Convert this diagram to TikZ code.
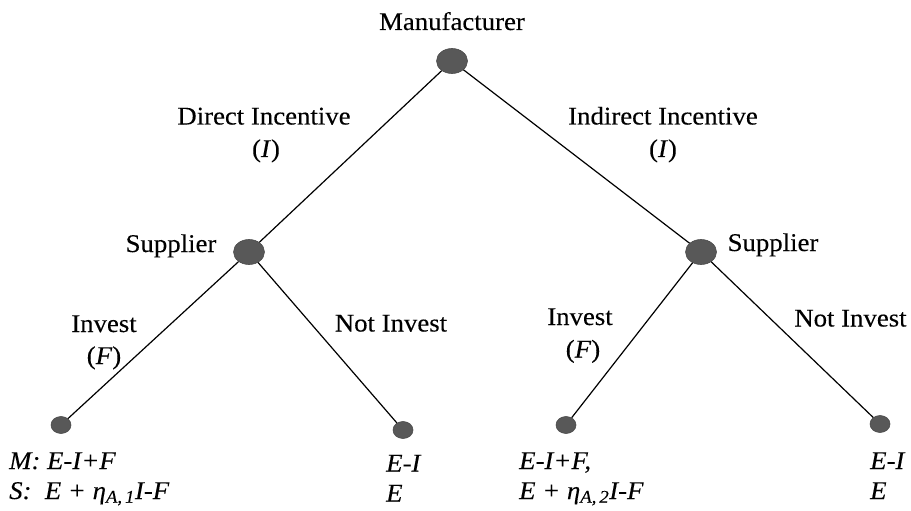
\documentclass[tikz,border=0pt]{standalone}
\usepackage{fontspec}
\setmainfont{Liberation Serif}[FakeStretch=1.05, FakeBold=0.2]
\usetikzlibrary{shapes.geometric}
\definecolor{nodegray}{RGB}{88,88,88}
\newcommand{\subidx}[1]{\textsubscript{\itshape #1}}
\begin{document}
\begin{tikzpicture}[x=1pt,y=-1pt,
  decision/.style={ellipse, fill=nodegray, draw=nodegray!85!black, line width=0.6pt,
    minimum width=31pt, minimum height=25pt, inner sep=0pt},
  terminal/.style={ellipse, fill=nodegray, draw=nodegray!85!black, line width=0.6pt,
    minimum width=20pt, minimum height=17pt, inner sep=0pt},
  branch/.style={draw=black, line width=1.2pt},
  lbl/.style={font=\fontsize{25.5}{33}\selectfont, inner sep=0pt, align=center, anchor=base},
  payoff/.style={font=\fontsize{25.5}{32}\selectfont\itshape, inner sep=0pt, align=left, anchor=base west}]
\useasboundingbox (0,0) rectangle (911,511);

% decision and terminal nodes
\node[decision] (root) at (452,61) {};
\node[decision] (s1) at (249,252) {};
\node[decision] (s2) at (701,252) {};
\node[terminal] (l1) at (61,425) {};
\node[terminal] (l2) at (403,430) {};
\node[terminal] (l3) at (566,425) {};
\node[terminal] (l4) at (880,424) {};

% branches
\draw[branch] (root) -- (s1);
\draw[branch] (root) -- (s2);
\draw[branch] (s1) -- (l1);
\draw[branch] (s1) -- (l2);
\draw[branch] (s2) -- (l3);
\draw[branch] (s2) -- (l4);

% player and action labels
\node[lbl] (tmanu) at (452,30) {Manufacturer};
\node[lbl] (tdir) at (264,124.5) {Direct Incentive};
\node[lbl] (tdirI) at (266,157) {(\textit{I})};
\node[lbl] (tind) at (663,124.5) {Indirect Incentive};
\node[lbl] (tindI) at (663,157) {(\textit{I})};
\node[lbl] (tsup1) at (171,252) {Supplier};
\node[lbl] (tsup2) at (773,251) {Supplier};
\node[lbl] (tinv1) at (104,332) {Invest};
\node[lbl] (tinvF1) at (104,364) {(\textit{F})};
\node[lbl] (tnot1) at (391,331.5) {Not Invest};
\node[lbl] (tinv2) at (580,325) {Invest};
\node[lbl] (tinvF2) at (583,357.5) {(\textit{F})};
\node[lbl] (tnot2) at (850.5,326.5) {Not Invest};

% payoffs
\node[payoff] (p1) at (9,469) {M: E-I+F};
\node[payoff] (p1b) at (9,499) {S:\ \ E + η\subidx{A,\,1}I-F};
\node[payoff] (p2) at (386,471.5) {E-I};
\node[payoff] (p2b) at (386,501.5) {E};
\node[payoff] (p3) at (519,469) {E-I+F,};
\node[payoff] (p3b) at (519,499) {E + η\subidx{A,\,2}I-F};
\node[payoff] (p4) at (870,469) {E-I};
\node[payoff] (p4b) at (870,499) {E};
\end{tikzpicture}
\end{document}
